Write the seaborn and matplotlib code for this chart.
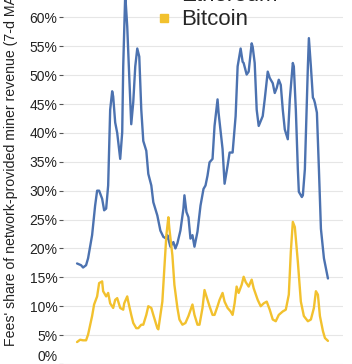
"""Fees' share of network-provided miner revenue, Ethereum vs Bitcoin (7-d MA)."""

import matplotlib

matplotlib.use("Agg")
import matplotlib.pyplot as plt
import numpy as np
import pandas as pd
import seaborn as sns
from matplotlib.lines import Line2D
from matplotlib.ticker import FuncFormatter

# values (day index, share in %)
eth_days = [0, 4, 6, 9, 11, 15, 18, 20, 22, 25, 27, 29, 31, 33, 35, 36, 38, 40, 43, 45,
            46, 48, 50, 52, 54, 56, 58, 60, 62, 64, 66, 69, 71, 74, 76, 80, 83, 86, 89, 90,
            93, 96, 98, 100, 103, 106, 107, 109, 111, 113, 115, 117, 120, 123, 126, 128, 130,
            132, 135, 137, 140, 141, 145, 147, 150, 152, 155, 158, 160, 163, 165, 166, 169,
            171, 174, 175, 177, 179, 181, 185, 187, 190, 192, 195, 197, 199, 201, 203, 205,
            207, 210, 212, 215, 216, 218, 220, 221, 224, 225, 227, 230, 231, 233, 235, 236,
            237, 239, 241, 243, 246, 250]
eth_share = [17.4, 17.1, 16.7, 17.1, 18.3, 22.3, 27.4, 30.0, 30.0, 28.6, 26.6, 26.9, 30.9,
             44.0, 47.2, 46.3, 41.8, 40.0, 35.5, 40.1, 51.5, 64.0, 58.4, 49.8, 41.5, 45.3,
             51.5, 54.6, 53.2, 44.0, 38.6, 36.9, 32.9, 30.9, 28.0, 25.7, 23.1, 22.0, 21.7,
             22.3, 20.3, 21.1, 20.0, 20.9, 23.1, 26.9, 29.2, 26.3, 25.4, 21.7, 22.3, 20.3,
             22.9, 27.4, 30.3, 30.9, 32.6, 34.9, 35.5, 41.2, 45.8, 43.5, 37.2, 31.2, 34.3,
             36.6, 36.6, 42.9, 51.5, 54.6, 52.3, 52.1, 50.1, 50.6, 55.5, 54.9, 52.1, 44.0,
             41.2, 42.9, 45.8, 50.6, 49.5, 48.6, 46.9, 47.8, 49.2, 48.3, 44.0, 40.6, 38.9,
             45.8, 52.1, 51.5, 44.0, 33.7, 29.8, 28.9, 29.2, 33.7, 51.5, 56.4, 51.5, 46.1,
             45.8, 45.2, 43.5, 33.7, 23.4, 18.3, 14.8]

btc_days = [0, 3, 6, 9, 11, 15, 17, 20, 22, 25, 26, 29, 31, 33, 36, 38, 40, 43, 46, 47,
            50, 51, 54, 56, 59, 61, 64, 66, 69, 71, 74, 76, 80, 81, 85, 87, 89, 91, 92, 95,
            97, 100, 102, 105, 108, 111, 115, 117, 120, 122, 125, 127, 130, 132, 135, 137,
            140, 142, 145, 147, 150, 153, 155, 157, 159, 161, 164, 166, 168, 171, 174, 176,
            180, 183, 186, 189, 192, 195, 198, 201, 205, 208, 211, 213, 215, 217, 220, 223,
            226, 230, 233, 236, 238, 240, 242, 245, 247, 250]
btc_share = [3.8, 4.2, 4.1, 4.1, 5.1, 8.3, 10.3, 11.7, 14.0, 14.3, 12.6, 11.7, 12.3, 10.5,
             9.7, 11.1, 11.4, 9.7, 9.4, 10.5, 11.7, 10.8, 8.5, 7.1, 6.2, 6.2, 6.8, 6.8, 8.5,
             10.0, 9.7, 8.5, 6.2, 6.0, 10.8, 16.6, 22.3, 25.4, 23.4, 18.8, 13.7, 9.7, 7.7,
             6.8, 7.1, 8.3, 10.3, 8.5, 6.8, 6.8, 9.7, 12.8, 11.1, 10.0, 8.5, 8.5, 10.0, 11.1,
             12.3, 10.8, 9.7, 9.1, 8.5, 10.5, 13.4, 12.3, 13.7, 15.1, 14.2, 13.4, 14.6, 13.1,
             11.1, 10.0, 10.5, 10.8, 9.4, 7.7, 7.4, 8.5, 9.1, 9.4, 12.0, 19.4, 24.6, 23.7,
             17.7, 10.8, 8.3, 7.4, 7.7, 9.7, 12.6, 12.0, 8.3, 5.7, 4.5, 4.0]

chains = ["Ethereum", "Bitcoin"]
colors = {"Ethereum": "#4C72B0", "Bitcoin": "#F2C12E"}
y_ticks = list(range(0, 61, 5))

df = pd.concat(
    [
        pd.DataFrame({"day": eth_days, "share": eth_share, "chain": "Ethereum"}),
        pd.DataFrame({"day": btc_days, "share": btc_share, "chain": "Bitcoin"}),
    ],
    ignore_index=True,
)

sns.set_theme(style="whitegrid")
plt.rcParams["font.family"] = ["Liberation Sans", "DejaVu Sans"]

fig = plt.figure(figsize=(3.52, 3.64), dpi=100)
ax = fig.add_axes([63 / 352, 0.0, 280 / 352, 1.0])

sns.lineplot(data=df, x="day", y="share", hue="chain", hue_order=chains,
             palette=colors, linewidth=1.7, ax=ax, legend=False)

ax.set_xlim(-14, 265)
ax.set_ylim(0, 63)
ax.set_yticks(y_ticks)
ax.yaxis.set_major_formatter(FuncFormatter(lambda v, _: f"{v:.0f}%"))
ax.set_xticks([])
ax.set_xlabel("")
ax.grid(axis="y", color="#e6e6e6", linewidth=0.8)
ax.grid(axis="x", visible=False)
for s in ax.spines.values():
    s.set_visible(False)
ax.tick_params(axis="y", length=3, width=0.8, color="#555555", pad=1,
               labelsize=10, labelcolor="#222222", left=True)
ax.get_yticklabels()[0].set_verticalalignment("bottom")

ax.set_ylabel("Fees' share of network-provided miner revenue (7-d MA)",
              fontsize=10.2, color="#222222", loc="bottom")
ax.yaxis.set_label_coords(-0.16, 0.05)

handles = [Line2D([], [], marker="s", linestyle="", markersize=6,
                  color=colors[c]) for c in chains]
ax.legend(handles, chains, loc="upper left", bbox_to_anchor=(146 / 352, 1.0 + 26 / 364),
          bbox_transform=fig.transFigure, frameon=False, fontsize=16,
          handlelength=0.6, handletextpad=0.5, labelspacing=0.15, borderpad=0)

fig.savefig("out.png", dpi=100)
plt.close(fig)
